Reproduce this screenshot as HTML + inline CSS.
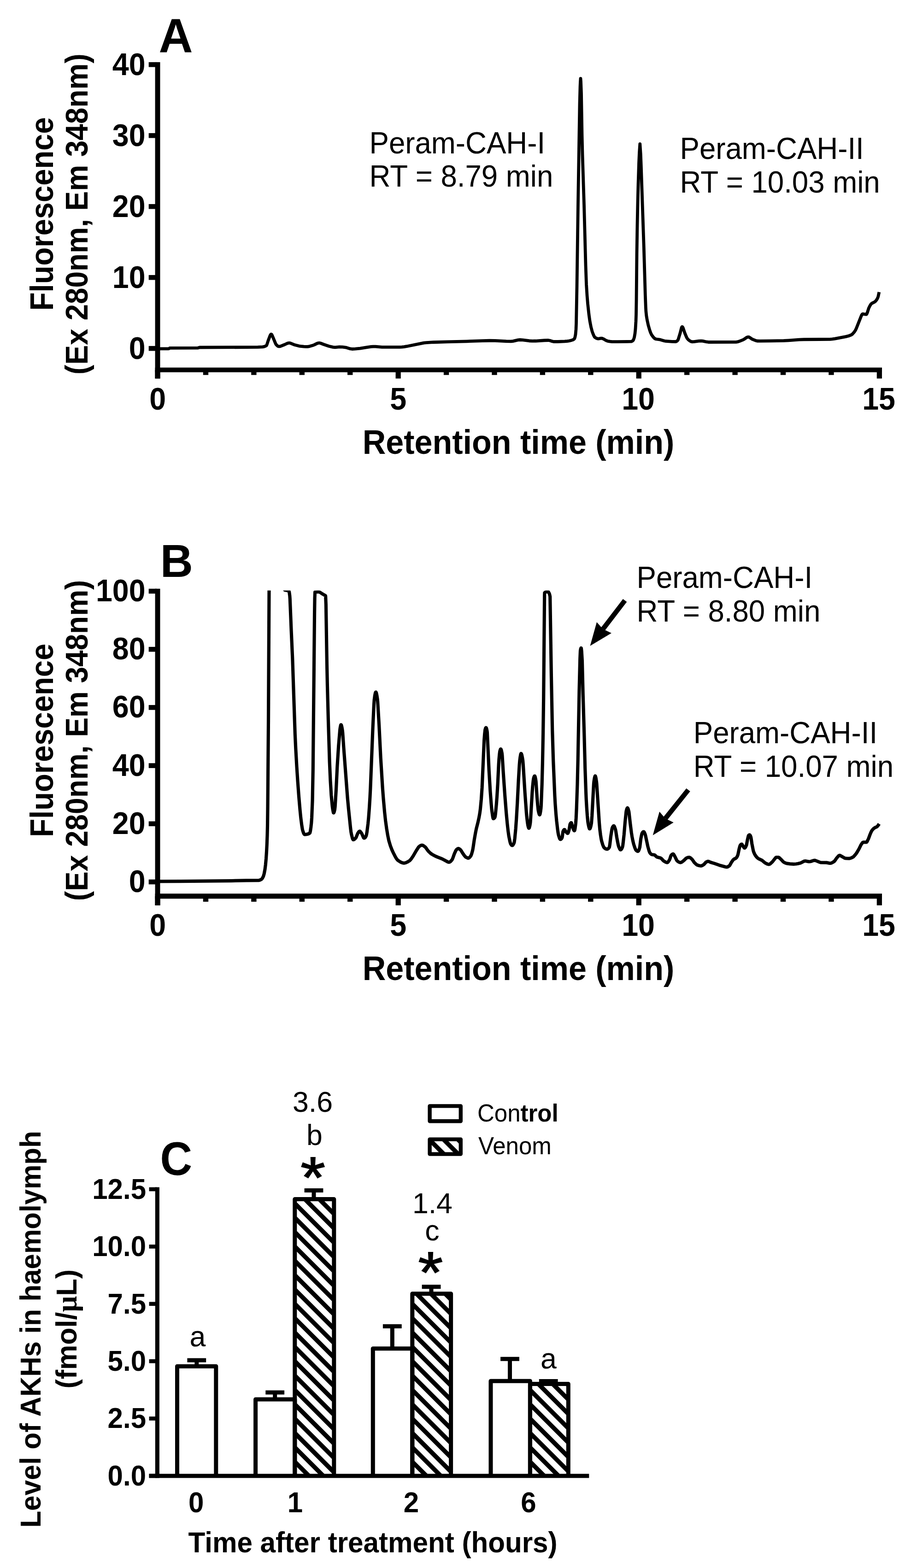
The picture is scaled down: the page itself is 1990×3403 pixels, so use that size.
<!DOCTYPE html>
<html lang="en">
<head>
<meta charset="utf-8">
<title>Figure: HPLC chromatograms and AKH levels</title>
<style>
html,body{margin:0;padding:0;background:#fff;}
body{width:1990px;height:3403px;overflow:hidden;}
svg{display:block;}
svg text{font-family:"Liberation Sans", sans-serif;fill:#000;}
</style>
</head>
<body>
<svg width="1990" height="3403" viewBox="0 0 1990 3403">
<rect x="0" y="0" width="1990" height="3403" fill="#fff"/>
<text transform="translate(381.5,112.7) scale(1,1.005)" font-size="102.5" font-weight="bold" text-anchor="middle">A</text>
<rect x="336.60" y="134.90" width="10.90" height="686.60" fill="#000"/>
<rect x="336.60" y="797.70" width="1577.40" height="10.20" fill="#000"/>
<rect x="322.70" y="134.90" width="17.30" height="10.60" fill="#000"/>
<text transform="translate(315.6,163.1) scale(1,1.07)" font-size="64.5" font-weight="bold" text-anchor="end">40</text>
<rect x="322.70" y="288.90" width="17.30" height="10.60" fill="#000"/>
<text transform="translate(315.6,317.1) scale(1,1.07)" font-size="64.5" font-weight="bold" text-anchor="end">30</text>
<rect x="322.70" y="442.90" width="17.30" height="10.60" fill="#000"/>
<text transform="translate(315.6,471.1) scale(1,1.07)" font-size="64.5" font-weight="bold" text-anchor="end">20</text>
<rect x="322.70" y="596.90" width="17.30" height="10.60" fill="#000"/>
<text transform="translate(315.6,625.1) scale(1,1.07)" font-size="64.5" font-weight="bold" text-anchor="end">10</text>
<rect x="322.70" y="750.90" width="17.30" height="10.60" fill="#000"/>
<text transform="translate(315.6,779.1) scale(1,1.07)" font-size="64.5" font-weight="bold" text-anchor="end">0</text>
<rect x="336.45" y="802.80" width="11.20" height="18.70" fill="#000"/>
<rect x="440.77" y="802.80" width="11.40" height="11.00" fill="#000"/>
<rect x="545.19" y="802.80" width="11.40" height="11.00" fill="#000"/>
<rect x="649.61" y="802.80" width="11.40" height="11.00" fill="#000"/>
<rect x="754.03" y="802.80" width="11.40" height="11.00" fill="#000"/>
<rect x="858.55" y="802.80" width="11.20" height="18.70" fill="#000"/>
<rect x="962.87" y="802.80" width="11.40" height="11.00" fill="#000"/>
<rect x="1067.29" y="802.80" width="11.40" height="11.00" fill="#000"/>
<rect x="1171.71" y="802.80" width="11.40" height="11.00" fill="#000"/>
<rect x="1276.13" y="802.80" width="11.40" height="11.00" fill="#000"/>
<rect x="1380.65" y="802.80" width="11.20" height="18.70" fill="#000"/>
<rect x="1484.97" y="802.80" width="11.40" height="11.00" fill="#000"/>
<rect x="1589.39" y="802.80" width="11.40" height="11.00" fill="#000"/>
<rect x="1693.81" y="802.80" width="11.40" height="11.00" fill="#000"/>
<rect x="1798.23" y="802.80" width="11.40" height="11.00" fill="#000"/>
<rect x="1902.75" y="802.80" width="11.20" height="18.70" fill="#000"/>
<text transform="translate(342.1,888.6) scale(1,1.07)" font-size="64.5" font-weight="bold" text-anchor="middle">0</text>
<text transform="translate(864.2,888.6) scale(1,1.07)" font-size="64.5" font-weight="bold" text-anchor="middle">5</text>
<text transform="translate(1385,888.6) scale(1,1.07)" font-size="64.5" font-weight="bold" text-anchor="middle">10</text>
<text transform="translate(1907.1,888.6) scale(1,1.07)" font-size="64.5" font-weight="bold" text-anchor="middle">15</text>
<text transform="translate(1125,984.7) scale(1,1.07)" font-size="70" font-weight="bold" text-anchor="middle">Retention time (min)</text>
<text transform="translate(115,464.2) rotate(-90) scale(1,1.07)" font-size="65.15" font-weight="bold" text-anchor="middle">Fluorescence</text>
<text transform="translate(190.4,464.6) rotate(-90) scale(1,1.07)" font-size="63.95" font-weight="bold" text-anchor="middle">(Ex 280nm, Em 348nm)</text>
<path d="M342.00,756.80 L366.00,756.80 L366.50,756.69 L368.50,755.41 L369.00,755.30 L429.00,755.20 L433.00,754.00 L534.00,753.63 L559.50,753.28 L570.00,752.90 L572.50,752.40 L574.50,751.78 L577.00,750.71 L578.00,750.06 L578.50,749.31 L579.50,746.99 L582.00,739.32 L586.00,728.73 L587.50,725.93 L588.00,725.47 L588.50,725.30 L589.00,725.45 L589.50,725.89 L590.50,727.47 L597.50,744.40 L599.00,747.39 L600.50,749.09 L602.50,750.83 L604.00,751.70 L605.00,751.97 L607.00,751.86 L609.50,751.21 L618.00,747.75 L623.50,745.20 L625.50,744.55 L627.50,744.30 L629.00,744.45 L631.00,745.02 L638.50,748.24 L648.50,750.82 L652.00,751.38 L659.50,752.13 L664.00,752.38 L667.50,752.32 L672.00,751.53 L680.00,749.21 L682.00,748.39 L688.50,745.14 L690.50,744.51 L692.50,744.30 L694.00,744.45 L696.00,744.96 L702.50,747.50 L713.50,751.26 L722.50,753.36 L727.00,753.80 L736.50,752.81 L743.50,753.17 L750.50,754.07 L760.00,756.92 L764.00,757.50 L771.00,757.18 L781.50,756.07 L797.00,753.54 L805.50,752.48 L810.00,752.13 L815.00,752.21 L829.00,753.39 L867.50,753.40 L872.00,753.20 L877.00,752.63 L882.50,751.71 L920.00,744.16 L925.50,743.56 L940.50,742.73 L970.00,741.78 L1012.50,740.83 L1047.00,739.57 L1062.00,739.23 L1074.50,739.33 L1098.50,740.66 L1109.00,740.88 L1113.50,740.33 L1124.00,737.93 L1128.50,737.50 L1134.50,737.84 L1148.50,739.74 L1155.00,740.20 L1162.50,740.02 L1181.50,738.74 L1190.00,738.51 L1193.00,738.99 L1199.00,740.92 L1201.50,741.48 L1210.50,741.52 L1225.50,740.97 L1231.50,740.45 L1235.50,739.73 L1239.50,738.73 L1243.00,737.63 L1245.00,736.63 L1246.50,735.24 L1247.00,734.26 L1248.00,730.91 L1249.00,725.76 L1250.00,714.48 L1250.50,702.28 L1252.00,621.00 L1254.50,440.80 L1258.00,225.14 L1259.00,188.67 L1259.50,177.14 L1260.00,170.50 L1260.50,176.72 L1261.50,203.39 L1263.00,293.21 L1264.00,334.85 L1267.50,444.19 L1271.00,575.41 L1272.50,617.24 L1274.00,641.23 L1275.50,659.39 L1278.00,682.30 L1280.00,696.66 L1282.50,709.63 L1285.00,719.12 L1287.00,724.58 L1289.00,729.20 L1290.50,731.64 L1291.50,732.53 L1294.50,734.24 L1297.00,735.01 L1299.00,735.05 L1304.50,734.11 L1307.00,734.44 L1309.50,735.53 L1316.00,739.34 L1319.00,740.29 L1324.00,741.14 L1328.00,741.54 L1340.00,741.59 L1361.50,741.38 L1369.50,741.20 L1370.50,741.03 L1372.50,739.98 L1374.00,738.63 L1375.00,736.72 L1376.50,732.28 L1378.00,723.56 L1379.00,713.83 L1380.00,697.13 L1380.50,682.71 L1381.00,652.53 L1382.00,549.64 L1383.00,487.19 L1384.00,438.96 L1385.00,400.00 L1386.50,353.25 L1387.50,331.25 L1388.80,312.50 L1390.30,335.00 L1391.30,360.26 L1397.30,537.38 L1400.30,640.00 L1401.30,666.40 L1401.80,675.35 L1402.80,685.09 L1404.30,694.26 L1406.80,705.80 L1409.80,716.10 L1411.80,721.81 L1413.80,726.19 L1417.80,731.73 L1419.80,733.81 L1421.30,734.94 L1422.80,735.64 L1424.30,735.99 L1432.80,737.23 L1441.30,739.71 L1444.80,740.47 L1458.30,741.34 L1466.30,741.50 L1467.30,741.34 L1468.80,740.45 L1470.30,739.04 L1471.30,737.77 L1471.80,736.72 L1475.80,723.83 L1478.80,711.96 L1479.80,709.63 L1480.30,709.21 L1480.80,709.33 L1481.30,709.81 L1482.30,711.66 L1486.30,723.34 L1489.80,731.66 L1491.30,734.54 L1493.30,736.76 L1496.80,739.66 L1499.30,741.10 L1501.80,741.77 L1505.80,741.62 L1516.30,740.12 L1521.30,739.80 L1524.80,740.14 L1533.30,741.99 L1537.30,742.49 L1597.30,742.43 L1600.30,741.93 L1603.30,741.08 L1612.80,737.32 L1614.80,736.22 L1620.30,732.42 L1622.30,731.53 L1623.80,731.30 L1624.80,731.43 L1626.30,732.03 L1632.30,736.07 L1639.30,738.98 L1643.30,739.99 L1649.30,740.09 L1672.80,739.87 L1700.80,739.31 L1711.30,738.78 L1734.30,737.22 L1744.80,736.76 L1801.30,736.34 L1806.30,735.92 L1811.80,735.13 L1835.30,730.64 L1841.80,729.01 L1847.30,726.91 L1848.80,725.92 L1850.30,724.61 L1854.30,719.92 L1856.30,716.95 L1858.30,712.80 L1868.80,686.27 L1870.30,683.05 L1871.30,681.75 L1871.80,681.45 L1873.80,681.52 L1879.80,682.40 L1880.30,682.25 L1880.80,681.69 L1882.30,678.12 L1885.30,668.69 L1887.80,663.73 L1889.30,661.22 L1890.30,659.91 L1891.80,658.58 L1893.30,657.65 L1897.30,655.71 L1899.30,654.30 L1901.30,652.22 L1903.30,649.26 L1904.80,646.26 L1905.80,643.33 L1907.80,633.90" fill="none" stroke="#000" stroke-width="6.8" stroke-linejoin="round" stroke-linecap="butt"/>
<text transform="translate(801.5,332.7) scale(1,1.04)" font-size="63.6" font-weight="normal" text-anchor="start">Peram-CAH-I</text>
<text transform="translate(801.5,405.4) scale(1,1.04)" font-size="63.6" font-weight="normal" text-anchor="start">RT = 8.79 min</text>
<text transform="translate(1475.5,344.8) scale(1,1.04)" font-size="63.6" font-weight="normal" text-anchor="start">Peram-CAH-II</text>
<text transform="translate(1475.5,418.4) scale(1,1.04)" font-size="63.6" font-weight="normal" text-anchor="start">RT = 10.03 min</text>
<text transform="translate(383.2,1252.4) scale(1,1.02)" font-size="98.4" font-weight="bold" text-anchor="middle">B</text>
<rect x="336.60" y="1277.70" width="10.90" height="687.10" fill="#000"/>
<rect x="336.60" y="1939.40" width="1577.40" height="11.00" fill="#000"/>
<rect x="322.70" y="1277.70" width="17.30" height="10.60" fill="#000"/>
<text transform="translate(315.6,1305) scale(1,1.07)" font-size="64.5" font-weight="bold" text-anchor="end">100</text>
<rect x="322.70" y="1403.90" width="17.30" height="10.60" fill="#000"/>
<text transform="translate(315.6,1431.2) scale(1,1.07)" font-size="64.5" font-weight="bold" text-anchor="end">80</text>
<rect x="322.70" y="1530.10" width="17.30" height="10.60" fill="#000"/>
<text transform="translate(315.6,1557.4) scale(1,1.07)" font-size="64.5" font-weight="bold" text-anchor="end">60</text>
<rect x="322.70" y="1656.30" width="17.30" height="10.60" fill="#000"/>
<text transform="translate(315.6,1683.6) scale(1,1.07)" font-size="64.5" font-weight="bold" text-anchor="end">40</text>
<rect x="322.70" y="1782.50" width="17.30" height="10.60" fill="#000"/>
<text transform="translate(315.6,1809.8) scale(1,1.07)" font-size="64.5" font-weight="bold" text-anchor="end">20</text>
<rect x="322.70" y="1908.70" width="17.30" height="10.60" fill="#000"/>
<text transform="translate(315.6,1936) scale(1,1.07)" font-size="64.5" font-weight="bold" text-anchor="end">0</text>
<rect x="336.45" y="1944.90" width="11.20" height="19.90" fill="#000"/>
<rect x="440.77" y="1944.90" width="11.40" height="12.10" fill="#000"/>
<rect x="545.19" y="1944.90" width="11.40" height="12.10" fill="#000"/>
<rect x="649.61" y="1944.90" width="11.40" height="12.10" fill="#000"/>
<rect x="754.03" y="1944.90" width="11.40" height="12.10" fill="#000"/>
<rect x="858.55" y="1944.90" width="11.20" height="19.90" fill="#000"/>
<rect x="962.87" y="1944.90" width="11.40" height="12.10" fill="#000"/>
<rect x="1067.29" y="1944.90" width="11.40" height="12.10" fill="#000"/>
<rect x="1171.71" y="1944.90" width="11.40" height="12.10" fill="#000"/>
<rect x="1276.13" y="1944.90" width="11.40" height="12.10" fill="#000"/>
<rect x="1380.65" y="1944.90" width="11.20" height="19.90" fill="#000"/>
<rect x="1484.97" y="1944.90" width="11.40" height="12.10" fill="#000"/>
<rect x="1589.39" y="1944.90" width="11.40" height="12.10" fill="#000"/>
<rect x="1693.81" y="1944.90" width="11.40" height="12.10" fill="#000"/>
<rect x="1798.23" y="1944.90" width="11.40" height="12.10" fill="#000"/>
<rect x="1902.75" y="1944.90" width="11.20" height="19.90" fill="#000"/>
<text transform="translate(342.1,2031.1) scale(1,1.07)" font-size="64.5" font-weight="bold" text-anchor="middle">0</text>
<text transform="translate(864.2,2031.1) scale(1,1.07)" font-size="64.5" font-weight="bold" text-anchor="middle">5</text>
<text transform="translate(1385,2031.1) scale(1,1.07)" font-size="64.5" font-weight="bold" text-anchor="middle">10</text>
<text transform="translate(1907.1,2031.1) scale(1,1.07)" font-size="64.5" font-weight="bold" text-anchor="middle">15</text>
<text transform="translate(1125,2127.2) scale(1,1.07)" font-size="70" font-weight="bold" text-anchor="middle">Retention time (min)</text>
<text transform="translate(115,1606.7) rotate(-90) scale(1,1.07)" font-size="65.15" font-weight="bold" text-anchor="middle">Fluorescence</text>
<text transform="translate(190.4,1607) rotate(-90) scale(1,1.07)" font-size="63.95" font-weight="bold" text-anchor="middle">(Ex 280nm, Em 348nm)</text>
<clipPath id="clipB"><rect x="330" y="1281.6" width="1600" height="700"/></clipPath>
<path d="M342.00,1912.80 L391.25,1912.66 L446.50,1912.21 L502.00,1911.57 L534.50,1910.82 L561.25,1910.59 L562.75,1910.37 L564.50,1909.79 L568.00,1907.82 L569.75,1905.53 L571.75,1901.38 L573.25,1896.04 L575.00,1886.77 L576.25,1876.87 L577.50,1863.25 L578.50,1848.34 L579.25,1832.96 L580.00,1813.03 L580.50,1792.96 L581.00,1752.00 L582.50,1564.27 L584.20,1240.00 L587.95,1235.83 L591.70,1232.78 L593.70,1231.60 L595.45,1230.84 L597.20,1230.32 L598.95,1230.04 L600.95,1230.03 L603.20,1230.40 L605.45,1231.15 L607.45,1232.15 L609.70,1233.66 L611.70,1235.33 L613.95,1237.59 L616.00,1240.00 L616.50,1267.64 L617.00,1275.05 L617.75,1280.18 L618.25,1280.68 L623.00,1281.44 L625.50,1282.26 L627.05,1282.99 L627.80,1285.65 L628.80,1293.10 L629.30,1300.08 L632.05,1367.60 L634.80,1429.27 L640.30,1593.30 L641.80,1625.26 L644.05,1664.88 L646.05,1695.25 L648.55,1728.86 L651.05,1757.76 L652.80,1775.24 L654.80,1790.85 L656.30,1799.95 L657.05,1802.81 L658.80,1807.97 L659.80,1810.07 L660.80,1811.13 L663.80,1810.97 L668.80,1809.88 L671.05,1808.87 L672.05,1808.14 L672.55,1807.48 L673.55,1803.60 L674.80,1794.90 L675.80,1785.74 L676.55,1774.92 L678.05,1737.89 L679.30,1669.66 L682.55,1331.34 L683.05,1298.16 L683.60,1285.00 L688.85,1284.62 L692.35,1284.65 L694.35,1285.39 L699.60,1288.97 L706.40,1292.80 L706.65,1294.33 L707.40,1312.71 L709.40,1438.34 L710.40,1486.53 L712.40,1562.11 L715.15,1652.86 L716.90,1693.16 L718.90,1725.99 L721.15,1749.89 L722.15,1756.92 L723.40,1763.31 L723.65,1763.96 L723.90,1764.20 L724.15,1764.11 L724.65,1763.41 L725.40,1761.32 L726.40,1757.20 L727.15,1750.91 L729.40,1714.83 L731.90,1662.80 L734.65,1619.49 L737.65,1584.06 L738.15,1580.28 L739.15,1574.94 L739.65,1573.21 L739.90,1572.84 L740.15,1572.84 L740.90,1574.15 L741.90,1578.16 L743.15,1585.32 L743.65,1589.84 L745.90,1622.43 L754.15,1731.62 L756.40,1755.66 L760.65,1796.85 L761.65,1805.05 L762.65,1810.66 L764.90,1819.53 L765.90,1821.86 L766.65,1822.50 L767.90,1822.23 L769.15,1821.45 L770.65,1820.05 L772.40,1818.04 L773.40,1816.03 L776.15,1809.02 L778.65,1805.27 L779.40,1804.46 L780.15,1803.99 L780.90,1803.94 L781.90,1804.62 L784.90,1808.90 L785.90,1810.88 L788.40,1816.89 L789.15,1818.22 L789.90,1818.98 L790.90,1818.98 L792.15,1818.01 L793.40,1816.29 L794.65,1813.94 L795.40,1811.15 L796.40,1805.36 L798.65,1787.37 L799.90,1774.50 L801.40,1754.49 L802.90,1730.47 L803.90,1710.26 L809.15,1577.88 L811.40,1530.11 L812.15,1518.86 L813.40,1509.60 L814.65,1503.61 L815.40,1502.08 L815.90,1502.16 L816.40,1503.06 L816.90,1504.66 L817.90,1509.46 L819.15,1517.50 L819.65,1522.83 L822.65,1573.65 L826.15,1644.47 L830.15,1709.06 L831.90,1732.20 L834.65,1762.83 L836.65,1781.23 L838.90,1797.56 L841.40,1812.79 L843.90,1824.64 L847.15,1835.55 L850.65,1844.63 L853.15,1850.02 L857.15,1857.89 L859.40,1861.92 L861.40,1864.91 L862.90,1866.64 L864.40,1867.84 L868.15,1870.30 L871.40,1871.96 L873.40,1872.66 L875.40,1873.04 L877.15,1873.08 L879.15,1872.78 L881.40,1872.09 L883.65,1871.08 L889.15,1867.76 L891.90,1864.70 L896.65,1857.74 L903.15,1846.47 L908.15,1838.76 L909.65,1837.12 L911.65,1835.75 L913.65,1834.69 L915.15,1834.30 L916.65,1834.41 L918.15,1834.98 L919.90,1836.07 L922.90,1838.39 L924.40,1840.09 L927.90,1845.18 L929.40,1847.06 L933.90,1851.48 L937.65,1854.23 L941.40,1856.36 L946.15,1858.64 L950.15,1860.38 L959.15,1863.88 L971.15,1870.27 L973.40,1871.14 L974.90,1871.22 L976.65,1870.45 L978.40,1868.94 L980.90,1866.07 L982.40,1863.13 L985.90,1853.30 L989.15,1846.05 L990.65,1843.89 L992.40,1842.40 L993.90,1841.58 L994.90,1841.46 L996.15,1841.86 L999.40,1844.41 L1000.90,1846.45 L1003.90,1851.41 L1007.90,1857.05 L1009.90,1859.42 L1011.40,1860.59 L1014.65,1862.11 L1015.90,1862.33 L1016.90,1862.21 L1017.90,1861.72 L1019.15,1860.71 L1021.65,1857.76 L1023.40,1853.60 L1025.65,1845.58 L1026.65,1839.98 L1029.15,1822.98 L1031.90,1807.39 L1033.90,1797.57 L1037.15,1785.02 L1039.40,1774.77 L1041.15,1765.13 L1042.40,1756.03 L1044.40,1734.78 L1046.15,1709.16 L1050.65,1606.49 L1051.65,1593.42 L1052.65,1584.30 L1053.65,1580.67 L1054.15,1579.65 L1054.65,1579.20 L1055.15,1579.54 L1055.90,1581.44 L1056.90,1586.06 L1057.40,1589.55 L1061.15,1671.12 L1063.90,1717.34 L1065.90,1743.53 L1067.15,1757.46 L1069.15,1771.85 L1069.90,1775.42 L1070.40,1776.59 L1070.90,1776.67 L1071.90,1776.22 L1072.90,1775.26 L1073.90,1773.90 L1074.65,1770.98 L1075.40,1765.23 L1077.40,1743.85 L1078.65,1726.64 L1080.15,1701.75 L1082.15,1659.14 L1082.90,1647.70 L1083.90,1636.79 L1084.65,1631.02 L1085.65,1627.29 L1086.15,1626.12 L1086.65,1625.60 L1086.90,1625.67 L1087.40,1626.41 L1088.15,1628.79 L1089.40,1635.00 L1089.90,1639.34 L1092.15,1675.96 L1095.65,1726.25 L1098.65,1764.34 L1100.90,1787.96 L1102.65,1803.61 L1104.15,1814.21 L1106.65,1826.51 L1107.65,1830.05 L1108.40,1831.86 L1109.90,1834.02 L1111.15,1834.97 L1112.15,1834.79 L1113.40,1833.58 L1114.90,1830.97 L1115.90,1828.44 L1117.15,1819.96 L1119.15,1798.87 L1120.65,1777.68 L1122.65,1743.42 L1125.15,1693.21 L1127.15,1659.53 L1127.90,1650.58 L1128.90,1643.05 L1129.90,1637.32 L1130.65,1635.36 L1130.90,1635.31 L1131.40,1635.79 L1132.40,1638.53 L1133.65,1644.47 L1134.65,1650.82 L1135.40,1660.20 L1139.15,1720.06 L1142.40,1764.50 L1143.15,1772.52 L1144.65,1785.11 L1145.65,1791.39 L1146.65,1795.22 L1147.15,1796.67 L1147.65,1797.45 L1148.15,1797.30 L1148.65,1796.38 L1149.90,1791.55 L1150.90,1785.47 L1151.65,1775.34 L1154.90,1720.23 L1155.90,1706.51 L1157.15,1694.62 L1157.90,1689.46 L1158.90,1686.10 L1159.90,1684.20 L1160.40,1684.02 L1160.65,1684.25 L1161.40,1686.24 L1162.40,1691.02 L1163.15,1696.07 L1165.40,1729.67 L1166.90,1747.96 L1167.90,1757.61 L1168.65,1761.59 L1169.90,1766.39 L1170.65,1768.01 L1171.15,1768.29 L1171.40,1768.10 L1172.15,1765.96 L1172.90,1761.91 L1173.90,1754.40 L1174.40,1747.92 L1176.15,1702.90 L1177.40,1655.02 L1178.65,1590.03 L1179.65,1517.35 L1181.65,1292.65 L1181.90,1286.40 L1183.40,1285.33 L1184.65,1284.71 L1188.15,1284.03 L1189.15,1284.04 L1189.90,1284.54 L1191.65,1287.31 L1192.65,1290.03 L1193.70,1294.70 L1196.45,1468.06 L1198.70,1585.38 L1200.70,1650.84 L1203.95,1727.81 L1204.95,1745.34 L1206.45,1765.68 L1207.95,1781.87 L1209.95,1799.19 L1210.95,1806.47 L1211.95,1811.85 L1214.20,1819.06 L1214.95,1820.66 L1215.70,1821.57 L1216.45,1821.66 L1217.45,1821.18 L1218.45,1820.18 L1219.70,1818.30 L1220.20,1816.15 L1221.70,1805.07 L1222.95,1802.26 L1224.20,1800.63 L1224.95,1800.30 L1225.70,1800.78 L1227.95,1805.18 L1230.20,1807.67 L1231.70,1808.57 L1232.20,1808.55 L1232.70,1808.00 L1233.70,1805.49 L1235.20,1800.00 L1236.95,1789.29 L1237.95,1787.06 L1239.20,1785.61 L1239.70,1785.52 L1239.95,1785.75 L1240.45,1786.86 L1242.45,1794.75 L1244.70,1800.63 L1245.70,1802.46 L1246.20,1802.92 L1246.70,1802.89 L1247.20,1801.75 L1247.95,1798.10 L1249.45,1786.37 L1250.20,1775.52 L1251.20,1754.02 L1252.95,1701.97 L1254.20,1648.45 L1256.95,1498.87 L1258.70,1429.55 L1259.45,1412.39 L1260.20,1408.21 L1260.95,1406.26 L1261.20,1406.27 L1261.45,1407.06 L1262.20,1413.63 L1263.45,1434.65 L1265.20,1506.33 L1267.70,1589.77 L1269.70,1666.96 L1271.45,1717.64 L1272.20,1735.02 L1273.20,1752.39 L1274.45,1769.99 L1275.70,1783.09 L1276.45,1788.06 L1277.70,1794.08 L1278.70,1797.55 L1279.45,1798.81 L1279.70,1798.90 L1280.20,1798.63 L1281.20,1796.64 L1282.20,1793.06 L1283.45,1786.87 L1284.70,1770.80 L1288.45,1700.78 L1288.95,1695.75 L1290.20,1688.10 L1291.20,1684.51 L1291.70,1684.00 L1291.95,1684.15 L1292.70,1686.18 L1293.45,1689.97 L1294.45,1696.45 L1294.95,1701.15 L1300.45,1785.22 L1301.70,1799.80 L1303.20,1811.77 L1304.45,1819.82 L1305.45,1824.86 L1307.95,1833.24 L1309.45,1836.99 L1310.70,1839.24 L1311.70,1840.36 L1313.95,1841.93 L1315.20,1842.54 L1316.45,1842.90 L1317.45,1842.95 L1318.45,1842.70 L1319.45,1842.13 L1320.70,1840.99 L1321.95,1839.41 L1322.45,1838.46 L1323.45,1832.63 L1325.45,1815.53 L1327.95,1799.59 L1328.70,1796.59 L1329.70,1794.52 L1330.95,1792.70 L1331.95,1792.20 L1332.70,1792.72 L1333.45,1793.98 L1335.70,1800.33 L1336.70,1805.69 L1338.45,1817.14 L1340.45,1828.00 L1341.70,1834.09 L1342.70,1837.59 L1344.70,1842.15 L1345.45,1843.37 L1346.20,1844.12 L1346.95,1844.24 L1347.70,1843.86 L1348.45,1843.06 L1349.45,1841.47 L1350.95,1837.94 L1351.70,1833.79 L1352.45,1827.90 L1354.20,1811.62 L1356.45,1784.80 L1358.70,1762.56 L1359.20,1759.44 L1360.20,1755.95 L1360.95,1754.12 L1361.70,1753.40 L1362.45,1754.09 L1363.20,1755.88 L1364.45,1760.19 L1364.95,1762.79 L1367.70,1787.01 L1370.20,1806.70 L1371.45,1814.82 L1373.20,1823.87 L1375.20,1832.25 L1377.70,1839.91 L1379.70,1844.44 L1380.45,1845.44 L1381.45,1846.28 L1383.20,1847.36 L1383.95,1847.59 L1384.70,1847.56 L1385.70,1846.52 L1386.95,1843.79 L1388.45,1838.76 L1390.70,1820.24 L1392.70,1810.46 L1393.45,1808.29 L1394.70,1806.39 L1395.95,1805.17 L1396.95,1804.99 L1397.70,1805.67 L1398.45,1806.97 L1399.95,1810.50 L1400.70,1812.83 L1405.95,1837.39 L1408.70,1847.07 L1410.20,1850.55 L1411.95,1852.85 L1413.45,1854.19 L1414.95,1854.73 L1418.95,1855.17 L1420.45,1855.51 L1421.70,1856.37 L1424.20,1858.84 L1425.45,1859.76 L1427.45,1860.51 L1432.20,1861.70 L1433.95,1862.37 L1435.70,1863.70 L1438.95,1867.29 L1440.45,1868.64 L1444.70,1871.13 L1446.20,1871.71 L1447.45,1871.94 L1448.45,1871.81 L1449.70,1870.84 L1450.95,1869.21 L1452.95,1866.00 L1453.70,1864.18 L1455.70,1857.89 L1456.45,1856.25 L1458.45,1854.25 L1460.20,1853.35 L1460.70,1853.32 L1461.20,1853.54 L1462.45,1855.10 L1465.20,1859.95 L1468.20,1866.36 L1469.45,1868.34 L1472.70,1870.65 L1474.20,1871.38 L1475.70,1871.83 L1477.70,1871.85 L1479.95,1870.72 L1484.45,1867.14 L1488.45,1863.16 L1490.20,1861.86 L1493.70,1860.78 L1496.20,1860.65 L1497.95,1861.50 L1501.20,1864.21 L1502.70,1866.07 L1506.70,1871.83 L1511.45,1876.27 L1512.95,1877.28 L1514.20,1877.85 L1517.70,1878.79 L1520.45,1879.19 L1522.45,1879.08 L1524.70,1878.04 L1527.70,1875.97 L1531.95,1871.29 L1534.70,1869.81 L1536.70,1869.34 L1538.45,1869.72 L1542.20,1871.48 L1550.95,1874.11 L1560.95,1877.68 L1574.70,1881.50 L1576.45,1881.81 L1577.70,1881.76 L1579.20,1881.27 L1580.70,1880.45 L1582.70,1879.06 L1583.70,1877.90 L1587.70,1870.78 L1591.20,1865.91 L1592.70,1864.62 L1595.95,1863.15 L1597.20,1862.35 L1598.45,1861.00 L1599.45,1859.44 L1600.70,1856.88 L1601.45,1854.84 L1603.95,1842.77 L1605.70,1836.16 L1606.70,1833.92 L1608.45,1832.35 L1609.20,1832.07 L1609.70,1832.14 L1610.45,1832.88 L1614.20,1839.03 L1615.20,1840.25 L1615.70,1840.49 L1616.20,1840.42 L1617.45,1839.22 L1618.70,1836.96 L1619.95,1833.97 L1622.20,1822.01 L1623.95,1814.47 L1624.70,1812.90 L1625.70,1812.05 L1626.45,1811.80 L1626.95,1811.94 L1627.70,1812.74 L1628.70,1814.57 L1629.45,1816.46 L1630.20,1820.44 L1631.70,1830.87 L1634.45,1844.90 L1635.20,1847.70 L1636.20,1850.44 L1637.45,1853.28 L1638.95,1856.00 L1641.95,1860.00 L1643.45,1861.54 L1645.20,1862.99 L1647.45,1864.33 L1653.45,1867.11 L1654.95,1868.18 L1659.70,1872.28 L1663.45,1874.36 L1665.70,1875.36 L1667.45,1875.82 L1668.95,1875.87 L1670.20,1875.46 L1671.70,1874.51 L1676.20,1870.39 L1683.20,1861.49 L1684.20,1860.66 L1684.95,1860.50 L1689.20,1860.52 L1690.45,1861.03 L1695.20,1865.34 L1699.70,1870.25 L1700.95,1871.21 L1703.20,1872.41 L1705.20,1873.27 L1707.20,1873.86 L1714.45,1874.91 L1722.20,1875.40 L1727.70,1875.02 L1731.95,1874.23 L1737.20,1872.96 L1739.20,1872.07 L1743.70,1869.55 L1745.95,1868.74 L1748.70,1868.69 L1754.70,1869.84 L1757.20,1869.98 L1759.70,1869.48 L1765.20,1867.55 L1767.45,1867.20 L1768.70,1867.31 L1770.20,1867.72 L1779.20,1871.38 L1781.45,1872.01 L1793.95,1872.12 L1800.45,1873.44 L1801.95,1873.48 L1803.20,1873.29 L1806.45,1871.99 L1810.45,1869.39 L1811.95,1867.59 L1815.95,1861.81 L1819.70,1857.57 L1820.70,1856.78 L1821.45,1856.46 L1822.45,1856.45 L1823.70,1856.90 L1832.70,1862.22 L1833.95,1862.58 L1836.95,1862.93 L1842.20,1863.20 L1844.45,1862.93 L1848.20,1861.57 L1850.70,1860.34 L1851.95,1859.46 L1855.20,1856.05 L1857.70,1852.93 L1859.45,1850.39 L1864.20,1842.25 L1868.45,1833.48 L1871.70,1828.94 L1872.45,1828.26 L1873.20,1827.92 L1880.45,1827.86 L1881.45,1826.93 L1884.70,1820.23 L1887.95,1811.39 L1890.20,1806.16 L1891.70,1803.18 L1892.95,1801.38 L1895.20,1798.88 L1897.45,1797.01 L1898.95,1796.10 L1902.20,1794.68 L1903.70,1793.68 L1905.70,1791.41 L1907.90,1788.00" fill="none" stroke="#000" stroke-width="7.2" stroke-linejoin="round" stroke-linecap="butt" clip-path="url(#clipB)"/>
<line x1="1356.1" y1="1303.1" x2="1308.5" y2="1365.3" stroke="#000" stroke-width="10.5"/>
<polygon points="1280.6,1401.7 1295.0,1350.3 1308.5,1365.3 1326.9,1373.9" fill="#000"/>
<line x1="1493.6" y1="1714.2" x2="1443.9" y2="1776.4" stroke="#000" stroke-width="10.5"/>
<polygon points="1416.7,1812.8 1431.1,1761.4 1443.9,1776.4 1461.7,1785.0" fill="#000"/>
<text transform="translate(1381.5,1276.1) scale(1,1.04)" font-size="63.6" font-weight="normal" text-anchor="start">Peram-CAH-I</text>
<text transform="translate(1381.5,1349.4) scale(1,1.04)" font-size="63.6" font-weight="normal" text-anchor="start">RT = 8.80 min</text>
<text transform="translate(1504.8,1613.2) scale(1,1.04)" font-size="63.6" font-weight="normal" text-anchor="start">Peram-CAH-II</text>
<text transform="translate(1504.8,1686.4) scale(1,1.04)" font-size="63.6" font-weight="normal" text-anchor="start">RT = 10.07 min</text>
<text transform="translate(382.4,2549.9) scale(1,1.055)" font-size="96.4" font-weight="bold" text-anchor="middle">C</text>
<rect x="336.80" y="2576.60" width="9.10" height="631.00" fill="#000"/>
<rect x="323.60" y="3198.60" width="954.70" height="9.00" fill="#000"/>
<rect x="323.60" y="2576.70" width="16.40" height="8.60" fill="#000"/>
<text transform="translate(317,2601.7) scale(1,1.055)" font-size="60" font-weight="bold" text-anchor="end">12.5</text>
<rect x="323.60" y="2701.10" width="16.40" height="8.60" fill="#000"/>
<text transform="translate(317,2726.1) scale(1,1.055)" font-size="60" font-weight="bold" text-anchor="end">10.0</text>
<rect x="323.60" y="2825.50" width="16.40" height="8.60" fill="#000"/>
<text transform="translate(317,2850.5) scale(1,1.055)" font-size="60" font-weight="bold" text-anchor="end">7.5</text>
<rect x="323.60" y="2949.90" width="16.40" height="8.60" fill="#000"/>
<text transform="translate(317,2974.9) scale(1,1.055)" font-size="60" font-weight="bold" text-anchor="end">5.0</text>
<rect x="323.60" y="3074.30" width="16.40" height="8.60" fill="#000"/>
<text transform="translate(317,3099.3) scale(1,1.055)" font-size="60" font-weight="bold" text-anchor="end">2.5</text>
<rect x="323.60" y="3198.70" width="16.40" height="8.60" fill="#000"/>
<text transform="translate(317,3223.7) scale(1,1.055)" font-size="60" font-weight="bold" text-anchor="end">0.0</text>
<path d="M384.50,3203.0 L384.50,2965.20 L468.80,2965.20 L468.80,3203.0" fill="none" stroke="#000" stroke-width="9.0" stroke-linejoin="round"/>
<path d="M554.60,3203.0 L554.60,3036.90 L639.80,3036.90 L639.80,3203.0" fill="none" stroke="#000" stroke-width="9.0" stroke-linejoin="round"/>
<clipPath id="h1"><rect x="639.80" y="2602.60" width="85.00" height="600.40"/></clipPath>
<g clip-path="url(#h1)" stroke="#000" stroke-width="9.6">
<line x1="619.80" y1="2436.05" x2="744.80" y2="2561.05"/>
<line x1="619.80" y1="2467.20" x2="744.80" y2="2592.20"/>
<line x1="619.80" y1="2498.35" x2="744.80" y2="2623.35"/>
<line x1="619.80" y1="2529.50" x2="744.80" y2="2654.50"/>
<line x1="619.80" y1="2560.65" x2="744.80" y2="2685.65"/>
<line x1="619.80" y1="2591.80" x2="744.80" y2="2716.80"/>
<line x1="619.80" y1="2622.95" x2="744.80" y2="2747.95"/>
<line x1="619.80" y1="2654.10" x2="744.80" y2="2779.10"/>
<line x1="619.80" y1="2685.25" x2="744.80" y2="2810.25"/>
<line x1="619.80" y1="2716.40" x2="744.80" y2="2841.40"/>
<line x1="619.80" y1="2747.55" x2="744.80" y2="2872.55"/>
<line x1="619.80" y1="2778.70" x2="744.80" y2="2903.70"/>
<line x1="619.80" y1="2809.85" x2="744.80" y2="2934.85"/>
<line x1="619.80" y1="2841.00" x2="744.80" y2="2966.00"/>
<line x1="619.80" y1="2872.15" x2="744.80" y2="2997.15"/>
<line x1="619.80" y1="2903.30" x2="744.80" y2="3028.30"/>
<line x1="619.80" y1="2934.45" x2="744.80" y2="3059.45"/>
<line x1="619.80" y1="2965.60" x2="744.80" y2="3090.60"/>
<line x1="619.80" y1="2996.75" x2="744.80" y2="3121.75"/>
<line x1="619.80" y1="3027.90" x2="744.80" y2="3152.90"/>
<line x1="619.80" y1="3059.05" x2="744.80" y2="3184.05"/>
<line x1="619.80" y1="3090.20" x2="744.80" y2="3215.20"/>
<line x1="619.80" y1="3121.35" x2="744.80" y2="3246.35"/>
<line x1="619.80" y1="3152.50" x2="744.80" y2="3277.50"/>
<line x1="619.80" y1="3183.65" x2="744.80" y2="3308.65"/>
<line x1="619.80" y1="3214.80" x2="744.80" y2="3339.80"/>
<line x1="619.80" y1="3245.95" x2="744.80" y2="3370.95"/>
</g>
<path d="M639.80,3203.0 L639.80,2602.60 L724.80,2602.60 L724.80,3203.0" fill="none" stroke="#000" stroke-width="9.0" stroke-linejoin="round"/>
<path d="M809.30,3203.0 L809.30,2926.70 L894.80,2926.70 L894.80,3203.0" fill="none" stroke="#000" stroke-width="9.0" stroke-linejoin="round"/>
<clipPath id="h2"><rect x="894.80" y="2807.80" width="83.80" height="395.20"/></clipPath>
<g clip-path="url(#h2)" stroke="#000" stroke-width="9.6">
<line x1="874.80" y1="2654.10" x2="998.60" y2="2777.90"/>
<line x1="874.80" y1="2685.25" x2="998.60" y2="2809.05"/>
<line x1="874.80" y1="2716.40" x2="998.60" y2="2840.20"/>
<line x1="874.80" y1="2747.55" x2="998.60" y2="2871.35"/>
<line x1="874.80" y1="2778.70" x2="998.60" y2="2902.50"/>
<line x1="874.80" y1="2809.85" x2="998.60" y2="2933.65"/>
<line x1="874.80" y1="2841.00" x2="998.60" y2="2964.80"/>
<line x1="874.80" y1="2872.15" x2="998.60" y2="2995.95"/>
<line x1="874.80" y1="2903.30" x2="998.60" y2="3027.10"/>
<line x1="874.80" y1="2934.45" x2="998.60" y2="3058.25"/>
<line x1="874.80" y1="2965.60" x2="998.60" y2="3089.40"/>
<line x1="874.80" y1="2996.75" x2="998.60" y2="3120.55"/>
<line x1="874.80" y1="3027.90" x2="998.60" y2="3151.70"/>
<line x1="874.80" y1="3059.05" x2="998.60" y2="3182.85"/>
<line x1="874.80" y1="3090.20" x2="998.60" y2="3214.00"/>
<line x1="874.80" y1="3121.35" x2="998.60" y2="3245.15"/>
<line x1="874.80" y1="3152.50" x2="998.60" y2="3276.30"/>
<line x1="874.80" y1="3183.65" x2="998.60" y2="3307.45"/>
<line x1="874.80" y1="3214.80" x2="998.60" y2="3338.60"/>
<line x1="874.80" y1="3245.95" x2="998.60" y2="3369.75"/>
</g>
<path d="M894.80,3203.0 L894.80,2807.80 L978.60,2807.80 L978.60,3203.0" fill="none" stroke="#000" stroke-width="9.0" stroke-linejoin="round"/>
<path d="M1065.00,3203.0 L1065.00,2997.30 L1150.40,2997.30 L1150.40,3203.0" fill="none" stroke="#000" stroke-width="9.0" stroke-linejoin="round"/>
<clipPath id="h3"><rect x="1150.40" y="3003.40" width="82.90" height="199.60"/></clipPath>
<g clip-path="url(#h3)" stroke="#000" stroke-width="9.6">
<line x1="1130.40" y1="2841.00" x2="1253.30" y2="2963.90"/>
<line x1="1130.40" y1="2872.15" x2="1253.30" y2="2995.05"/>
<line x1="1130.40" y1="2903.30" x2="1253.30" y2="3026.20"/>
<line x1="1130.40" y1="2934.45" x2="1253.30" y2="3057.35"/>
<line x1="1130.40" y1="2965.60" x2="1253.30" y2="3088.50"/>
<line x1="1130.40" y1="2996.75" x2="1253.30" y2="3119.65"/>
<line x1="1130.40" y1="3027.90" x2="1253.30" y2="3150.80"/>
<line x1="1130.40" y1="3059.05" x2="1253.30" y2="3181.95"/>
<line x1="1130.40" y1="3090.20" x2="1253.30" y2="3213.10"/>
<line x1="1130.40" y1="3121.35" x2="1253.30" y2="3244.25"/>
<line x1="1130.40" y1="3152.50" x2="1253.30" y2="3275.40"/>
<line x1="1130.40" y1="3183.65" x2="1253.30" y2="3306.55"/>
<line x1="1130.40" y1="3214.80" x2="1253.30" y2="3337.70"/>
<line x1="1130.40" y1="3245.95" x2="1253.30" y2="3368.85"/>
</g>
<path d="M1150.40,3203.0 L1150.40,3003.40 L1233.30,3003.40 L1233.30,3203.0" fill="none" stroke="#000" stroke-width="9.0" stroke-linejoin="round"/>
<rect x="406.40" y="2947.60" width="40.80" height="9.00" fill="#000"/>
<rect x="422.30" y="2952.10" width="9.00" height="12.90" fill="#000"/>
<rect x="576.30" y="3017.50" width="40.80" height="9.00" fill="#000"/>
<rect x="592.20" y="3022.00" width="9.00" height="15.00" fill="#000"/>
<rect x="660.60" y="2579.00" width="40.80" height="9.00" fill="#000"/>
<rect x="676.50" y="2583.50" width="9.00" height="18.50" fill="#000"/>
<rect x="830.90" y="2873.90" width="40.80" height="9.00" fill="#000"/>
<rect x="846.80" y="2878.40" width="9.00" height="48.60" fill="#000"/>
<rect x="915.60" y="2788.20" width="40.80" height="9.00" fill="#000"/>
<rect x="931.50" y="2792.70" width="9.00" height="15.30" fill="#000"/>
<rect x="1086.10" y="2944.80" width="40.80" height="9.00" fill="#000"/>
<rect x="1102.00" y="2949.30" width="9.00" height="47.70" fill="#000"/>
<rect x="1169.80" y="2993.00" width="40.80" height="9.00" fill="#000"/>
<rect x="1185.70" y="2997.50" width="9.00" height="5.50" fill="#000"/>
<text transform="translate(429,2922) scale(1,1)" font-size="62.6" font-weight="normal" text-anchor="middle">a</text>
<text transform="translate(678.5,2413.3) scale(1,1)" font-size="62.6" font-weight="normal" text-anchor="middle">3.6</text>
<text transform="translate(682.5,2484.5) scale(1,1)" font-size="62.6" font-weight="normal" text-anchor="middle">b</text>
<text transform="translate(679,2598.6) scale(1,0.92)" font-size="138" font-weight="normal" text-anchor="middle" stroke="#000" stroke-width="2.0" stroke-linejoin="miter">*</text>
<text transform="translate(938.4,2633) scale(1,1)" font-size="62.6" font-weight="normal" text-anchor="middle">1.4</text>
<text transform="translate(938,2692) scale(1,1)" font-size="62.6" font-weight="normal" text-anchor="middle">c</text>
<text transform="translate(934.3,2805.4) scale(1,0.92)" font-size="138" font-weight="normal" text-anchor="middle" stroke="#000" stroke-width="2.0" stroke-linejoin="miter">*</text>
<text transform="translate(1190.5,2969.9) scale(1,1)" font-size="62.6" font-weight="normal" text-anchor="middle">a</text>
<text transform="translate(425.7,3282) scale(1,1.04)" font-size="60" font-weight="bold" text-anchor="middle">0</text>
<text transform="translate(640.5,3282) scale(1,1.04)" font-size="60" font-weight="bold" text-anchor="middle">1</text>
<text transform="translate(892.5,3282) scale(1,1.04)" font-size="60" font-weight="bold" text-anchor="middle">2</text>
<text transform="translate(1146.9,3282) scale(1,1.04)" font-size="60" font-weight="bold" text-anchor="middle">6</text>
<text transform="translate(809.1,3369.2) scale(1,1.04)" font-size="60.15" font-weight="bold" text-anchor="middle">Time after treatment (hours)</text>
<text transform="translate(88,2885) rotate(-90) scale(1,1.04)" font-size="60" font-weight="bold" text-anchor="middle">Level of AKHs in haemolymph</text>
<text transform="translate(166,2884.2) rotate(-90) scale(1,1.04)" font-size="61" font-weight="bold" text-anchor="middle">(fmol/<tspan font-family="'Liberation Serif', 'DejaVu Serif', serif">µ</tspan>L)</text>
<rect x="932.6" y="2400.4" width="67.2" height="32.8" fill="#fff" stroke="#000" stroke-width="8.4" stroke-linejoin="round"/>
<clipPath id="hl"><rect x="932.60" y="2472.60" width="67.20" height="32.00"/></clipPath>
<g clip-path="url(#hl)" stroke="#000" stroke-width="9.6">
<line x1="912.60" y1="2329.50" x2="1019.80" y2="2436.70"/>
<line x1="912.60" y1="2360.65" x2="1019.80" y2="2467.85"/>
<line x1="912.60" y1="2391.80" x2="1019.80" y2="2499.00"/>
<line x1="912.60" y1="2422.95" x2="1019.80" y2="2530.15"/>
<line x1="912.60" y1="2454.10" x2="1019.80" y2="2561.30"/>
<line x1="912.60" y1="2485.25" x2="1019.80" y2="2592.45"/>
<line x1="912.60" y1="2516.40" x2="1019.80" y2="2623.60"/>
<line x1="912.60" y1="2547.55" x2="1019.80" y2="2654.75"/>
</g>
<rect x="932.6" y="2472.6" width="67.2" height="32.0" fill="none" stroke="#000" stroke-width="8.4" stroke-linejoin="round"/>
<text transform="translate(1036,2434) scale(1,1.04)" font-size="51" font-weight="normal" text-anchor="start">Con<tspan font-weight="bold">trol</tspan></text>
<text transform="translate(1038,2505.2) scale(1,1.04)" font-size="51" font-weight="normal" text-anchor="start">Venom</text>
</svg>
</body>
</html>
